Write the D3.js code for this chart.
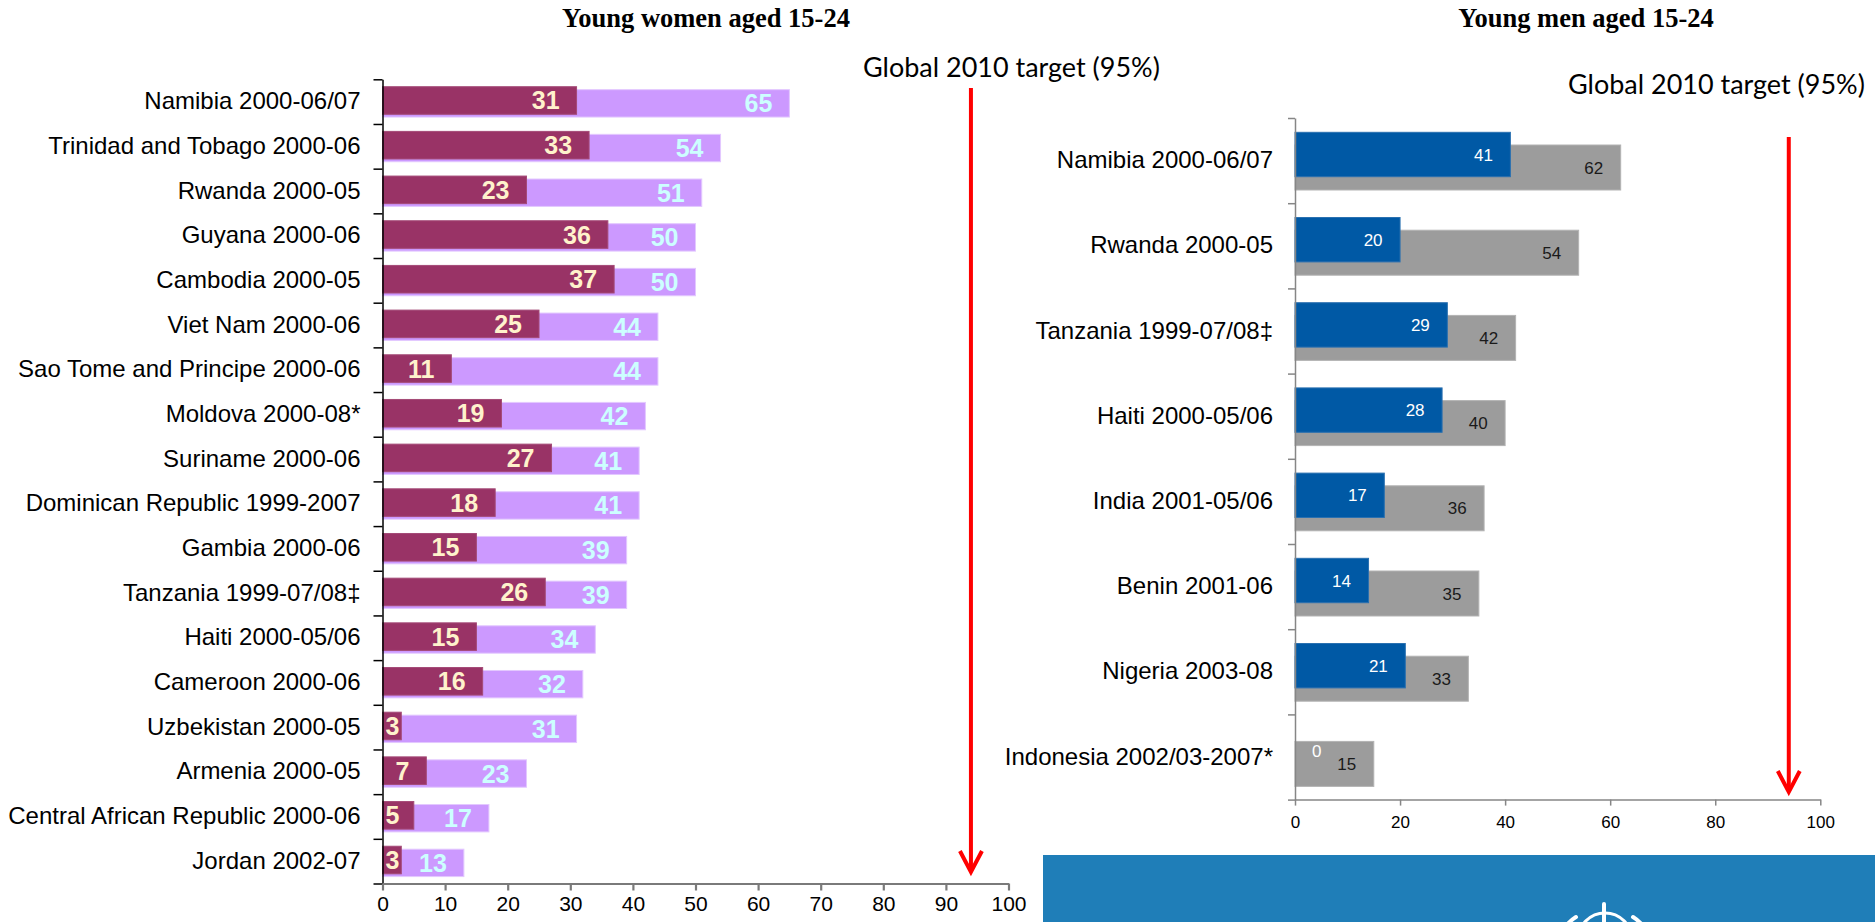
<!DOCTYPE html>
<html>
<head>
<meta charset="utf-8">
<script src="https://cdn.jsdelivr.net/npm/d3@7"></script>
<style>
body{margin:0;background:#fff}
svg{display:block}
</style>
</head>
<body>
<div id="chart"></div>
<script>
// young women, first survey vs latest survey (%)
const womenCountries = ["Namibia 2000-06/07","Trinidad and Tobago 2000-06","Rwanda 2000-05","Guyana 2000-06",
  "Cambodia 2000-05","Viet Nam 2000-06","Sao Tome and Principe 2000-06","Moldova 2000-08*","Suriname 2000-06",
  "Dominican Republic 1999-2007","Gambia 2000-06","Tanzania 1999-07/08‡","Haiti 2000-05/06","Cameroon 2000-06",
  "Uzbekistan 2000-05","Armenia 2000-05","Central African Republic 2000-06","Jordan 2002-07"];
const womenFirst  = [31,33,23,36,37,25,11,19,27,18,15,26,15,16,3,7,5,3];
const womenLatest = [65,54,51,50,50,44,44,42,41,41,39,39,34,32,31,23,17,13];

// young men
const menCountries = ["Namibia 2000-06/07","Rwanda 2000-05","Tanzania 1999-07/08‡","Haiti 2000-05/06",
  "India 2001-05/06","Benin 2001-06","Nigeria 2003-08","Indonesia 2002/03-2007*"];
const menFirst  = [41,20,29,28,17,14,21,0];
const menLatest = [62,54,42,40,36,35,33,15];

const womenTicks = d3.range(0,101,10);
const menTicks = d3.range(0,101,20);
const targetArrowAt = 94;   // where the arrow is drawn on the axis
const targetText = "Global 2010 target (95%)";

const width = 1875, height = 922;
const svg = d3.select("#chart").append("svg")
  .attr("width",width)
  .attr("height",height);

function drawPanel(p){
  const g = svg.append("g");
  const x = d3.scaleLinear().domain([0,100]).range(p.xRange);
  const y = d3.scaleBand().domain(p.cats).range(p.yRange);
  const bw = y.bandwidth();

  // latest survey bar sits behind and a bit lower
  g.selectAll("rect.latest").data(p.latest).enter().append("rect")
    .attr("x",x(0))
    .attr("y",(d,i)=>y(p.cats[i])+bw*p.latestPos[0])
    .attr("width",d=>x(d)-x(0))
    .attr("height",bw*(p.latestPos[1]-p.latestPos[0]))
    .attr("fill",p.latestColor)
    .attr("stroke",p.latestEdge).attr("stroke-width",1);

  g.selectAll("rect.first").data(p.first).enter().append("rect")
    .attr("x",x(0))
    .attr("y",(d,i)=>y(p.cats[i])+bw*p.firstPos[0])
    .attr("width",d=>x(d)-x(0))
    .attr("height",bw*(p.firstPos[1]-p.firstPos[0]))
    .attr("fill",p.firstColor)
    .attr("stroke",p.firstEdge).attr("stroke-width",1);

  // value labels, inside end of each bar
  function labels(vals,pos,color){
    g.selectAll(null).data(vals).enter().append("text")
      .attr("y",(d,i)=>y(p.cats[i])+bw*(pos[0]+pos[1])/2)
      .attr("dy","0.36em")
      .attr("font-family","Liberation Sans, Arial, sans-serif")
      .attr("font-size",p.valueSize+"px")
      .attr("font-weight",p.valueWeight)
      .attr("fill",color)
      .attr("text-anchor","end")
      .text(d=>d)
      .each(function(d){
        const w = this.getComputedTextLength();
        const right = Math.max(x(d)-p.valuePad, x(0)+p.minLeft+w);
        d3.select(this).attr("x",right);
      });
  }
  labels(p.first,p.firstPos,p.firstLabel);
  labels(p.latest,p.latestPos,p.latestLabel);

  // category labels
  const yAxis = g.append("g")
    .attr("transform",`translate(${x(0)},0)`)
    .call(d3.axisLeft(y).tickSize(0).tickPadding(22));
  yAxis.select(".domain").remove();
  yAxis.selectAll("text")
    .attr("font-family","Liberation Sans, Arial, sans-serif")
    .attr("font-size","24px")
    .attr("fill","#000");

  // ticks between categories
  const edges = d3.scaleLinear().domain([0,p.cats.length]).range(p.yRange);
  const yLine = g.append("g")
    .attr("transform",`translate(${x(0)},0)`)
    .call(d3.axisLeft(edges).tickValues(d3.range(p.cats.length+1)).tickSize(p.catTick).tickSizeOuter(0).tickFormat(""));
  yLine.selectAll("path,line").attr("stroke",p.yAxisColor).attr("stroke-width",p.yAxisWidth);

  const xAxis = g.append("g")
    .attr("transform",`translate(0,${p.yRange[1]})`)
    .call(d3.axisBottom(x).tickValues(p.ticks).tickSize(p.xTick).tickSizeOuter(0).tickPadding(p.xPad));
  xAxis.selectAll("path,line").attr("stroke",p.xAxisColor).attr("stroke-width",p.xAxisWidth);
  xAxis.selectAll("text")
    .attr("font-family","Liberation Sans, Arial, sans-serif")
    .attr("font-size",p.xFont+"px")
    .attr("fill","#000");

  // panel title
  svg.append("text")
    .attr("x",p.titleX).attr("y",27)
    .attr("text-anchor","middle")
    .attr("font-family","Liberation Serif, Times New Roman, serif")
    .attr("font-weight","bold")
    .attr("font-size","26.5px")
    .text(p.title);

  // target note and arrow
  const note = svg.append("text")
    .attr("x",p.noteX).attr("y",p.noteY)
    .attr("font-family","Lato, Carlito, sans-serif")
    .attr("font-size","28px")
    .attr("fill","#000")
    .text(targetText);
  const nw = note.node().getComputedTextLength();
  note.attr("font-size",(28*297/nw).toFixed(2)+"px");

  const ax = x(targetArrowAt);
  svg.append("line")
    .attr("x1",ax).attr("x2",ax)
    .attr("y1",p.arrow[0]).attr("y2",p.arrow[1]-2)
    .attr("stroke","#ff0000").attr("stroke-width",4);
  svg.append("path")
    .attr("d",`M${ax-11},${p.arrow[1]-21}L${ax},${p.arrow[1]}L${ax+11},${p.arrow[1]-21}`)
    .attr("fill","none")
    .attr("stroke","#ff0000").attr("stroke-width",4);
}

drawPanel({
  cats:womenCountries, first:womenFirst, latest:womenLatest,
  xRange:[382.5,1008.5], yRange:[79.3,883.5], ticks:womenTicks,
  firstPos:[0.166,0.783], latestPos:[0.232,0.845],
  firstColor:"#993366", firstEdge:"#a44a77", latestColor:"#cc99ff", latestEdge:"#e3c8ff",
  firstLabel:"#fff2cc", latestLabel:"#ccffff",
  valueSize:25, valueWeight:"bold", valuePad:17, minLeft:3,
  catTick:9, yAxisColor:"#000", yAxisWidth:1.5,
  xTick:7, xPad:6, xAxisColor:"#7a7a7a", xAxisWidth:2.2, xFont:21,
  title:"Young women aged 15-24", titleX:706,
  noteX:863, noteY:77, arrow:[88,872]
});

drawPanel({
  cats:menCountries, first:menFirst, latest:menLatest,
  xRange:[1295,1820.3], yRange:[118,799.6], ticks:menTicks,
  firstPos:[0.168,0.689], latestPos:[0.317,0.845],
  firstColor:"#0059a5", firstEdge:"#2a70b0", latestColor:"#9c9c9c", latestEdge:"#b3b3b3",
  firstLabel:"#ffffff", latestLabel:"#1a1a1a",
  valueSize:17, valueWeight:"normal", valuePad:17.5, minLeft:17,
  catTick:7, yAxisColor:"#868686", yAxisWidth:1.5,
  xTick:6, xPad:10, xAxisColor:"#868686", xAxisWidth:1.5, xFont:17,
  title:"Young men aged 15-24", titleX:1586,
  noteX:1568, noteY:94, arrow:[137,792]
});

// blue footer box with emblem at bottom right
svg.append("rect")
  .attr("x",1043).attr("y",855)
  .attr("width",width-1043).attr("height",height-855)
  .attr("fill","#1f7eb8");
const emblem = svg.append("g").attr("stroke","#fff").attr("fill","none").attr("stroke-linecap","round");
emblem.append("circle").attr("cx",1605).attr("cy",940).attr("r",27).attr("stroke-width",3);
emblem.append("line").attr("x1",1604).attr("x2",1604).attr("y1",904).attr("y2",925).attr("stroke-width",4);
emblem.append("path").attr("d","M1576,917 Q1562,926 1559,941").attr("stroke-width",4);
emblem.append("path").attr("d","M1633,917 Q1647,926 1650,941").attr("stroke-width",4);
</script>
</body>
</html>
